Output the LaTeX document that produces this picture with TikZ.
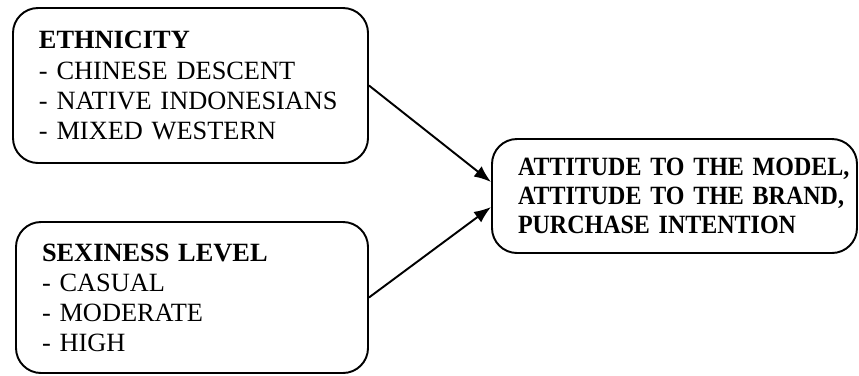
\documentclass[tikz,border=0pt]{standalone}
\usepackage{fontspec}
\setmainfont{Liberation Serif}
\newfontfamily\narrowfont{Liberation Serif}[FakeStretch=0.91]
\usetikzlibrary{arrows.meta}
\begin{document}
\begin{tikzpicture}[every node/.style={shape=rectangle,rounded corners=0.5cm,draw=black,line width=1.1pt,fill=none,inner xsep=0.52cm,inner ysep=0pt,align=left,font=\fontsize{15}{17.1}\selectfont}]
        \useasboundingbox (0,0) rectangle (17.18,-7.5);
        \node[text width=6.06cm,minimum height=3.1cm] (0) at (3.81,-1.71) {\textbf{ETHNICITY}\\- CHINESE DESCENT\\- NATIVE INDONESIANS\\- MIXED WESTERN};
        \node[text width=6.0cm,minimum height=3.02cm] (1) at (3.84,-5.95) {\textbf{SEXINESS LEVEL}\\- CASUAL\\- MODERATE\\- HIGH};
        \node[text width=6.26cm,minimum height=2.28cm,font=\fontsize{15}{16.6}\narrowfont\bfseries] (2) at (13.49,-3.92) {\mbox{ATTITUDE TO THE MODEL,}\\\mbox{ATTITUDE TO THE BRAND,}\\\mbox{PURCHASE INTENTION}};
        \draw (0.east) edge[line width=1.1pt,-{Latex[length=0.34cm,width=0.26cm]}] ([yshift=0.28cm]2.west);
        \draw (1.east) edge[line width=1.1pt,-{Latex[length=0.34cm,width=0.26cm]}] ([yshift=-0.22cm]2.west);
      \end{tikzpicture}
\end{document}
